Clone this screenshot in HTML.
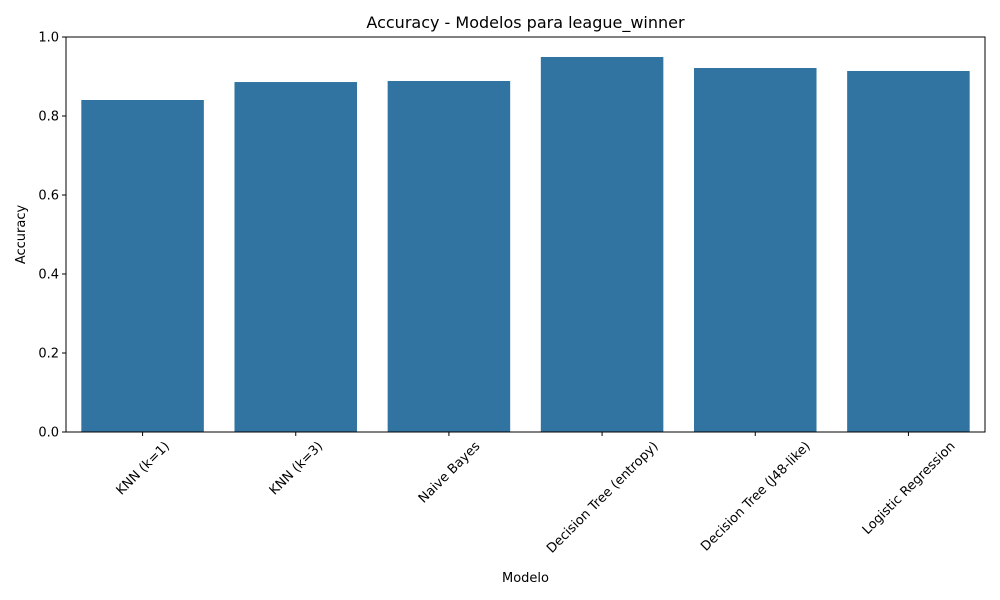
<!DOCTYPE html>
<html><head><meta charset="utf-8"><style>
html,body{margin:0;padding:0;background:#fff;}
svg{display:block;font-family:"DejaVu Sans","Liberation Sans",sans-serif;}
</style></head><body>
<svg id="chart" width="1000" height="600">
<rect width="1000" height="600" fill="#fff"/>
<text x="525.5" y="28" font-size="16" text-anchor="middle">Accuracy - Modelos para league_winner</text>
<g id="bars"></g><g id="yaxis"></g><g id="xaxis"></g>
<rect x="66" y="37" width="919" height="395" fill="none" stroke="#000" stroke-width="1"/>
<text x="525.5" y="582" font-size="13" text-anchor="middle">Modelo</text>
<text transform="translate(25,234.5) rotate(-90)" font-size="13" text-anchor="middle">Accuracy</text>
</svg>
<script>
const categories=["KNN (k=1)","KNN (k=3)","Naive Bayes","Decision Tree (entropy)","Decision Tree (J48-like)","Logistic Regression"];
const values=[0.8405,0.886,0.8886,0.9494,0.9215,0.914];
const yTicks=[0,0.2,0.4,0.6,0.8,1.0];
const yTickLabels=["0.0","0.2","0.4","0.6","0.8","1.0"];
const NS="http://www.w3.org/2000/svg";
const L=66,R=985,T=37,B=432;
const y=v=>B-(v-0)/(1-0)*(B-T);
const step=(R-L)/categories.length;
const xc=i=>L+step*(i+0.5);
const bw=step*0.8;
function mk(t,a){const e=document.createElementNS(NS,t);for(const k in a)e.setAttribute(k,a[k]);return e;}
const gb=document.getElementById('bars'),gy=document.getElementById('yaxis'),gx=document.getElementById('xaxis');
values.forEach((v,i)=>{
 const r=mk('rect',{x:xc(i)-bw/2,y:y(v),width:bw,height:B-y(v),fill:'#3274a1'});
 
 
 gb.appendChild(r);
});
yTicks.forEach((t,i)=>{
 const l=mk('line',{x1:L-4,x2:L,y1:y(t),y2:y(t),stroke:'#000'});
 
 
 gy.appendChild(l);
 const tx=mk('text',{x:L-7,y:y(t)+4.5,'font-size':13,'text-anchor':'end'});
 tx.textContent=yTickLabels[i];
 
 
 gy.appendChild(tx);
});
categories.forEach((c,i)=>{
 const l=mk('line',{x1:xc(i),x2:xc(i),y1:B,y2:B+4,stroke:'#000'});
 
 
 gx.appendChild(l);
 const tx=mk('text',{x:0,y:4.5,'font-size':13,'text-anchor':'middle'});
 tx.textContent=c;
 
 
 gx.appendChild(tx);
 const w=tx.getComputedTextLength();
 const cy=B+7+(w+13)*0.7071/2;
 tx.setAttribute('transform',`translate(${xc(i)},${cy}) rotate(-45)`);
});
</script>
</body></html>
